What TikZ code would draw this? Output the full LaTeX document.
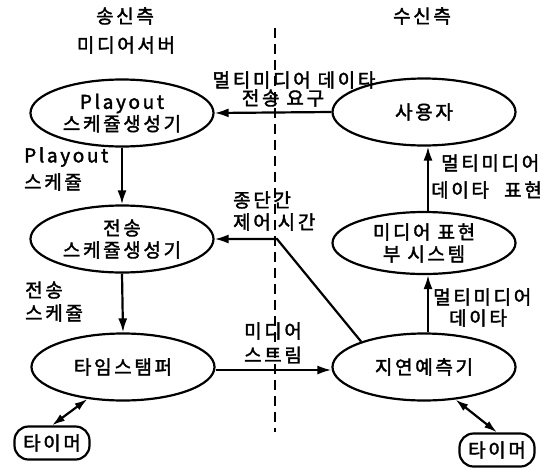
\documentclass[tikz,border=0pt]{standalone}
\usepackage{fontspec}
\setmainfont{Noto Sans CJK KR}[LetterSpace=14,FakeBold=2]
\usetikzlibrary{arrows.meta,shapes.geometric,calc}
\begin{document}
\begin{tikzpicture}[x=1pt,y=-1pt, font=\fontsize{19}{22}\selectfont,
 ell/.style={ellipse, draw, line width=2.2pt, minimum width=183pt, minimum height=67pt, inner sep=0pt, align=center},
 timer/.style={draw, rounded corners=14pt, line width=2.2pt, minimum width=75pt, minimum height=33pt, inner sep=2pt},
 arr/.style={line width=2.2pt, -{Latex[length=14pt,width=9pt]}},
 darr/.style={line width=2.2pt, {Latex[length=13pt,width=8pt]}-{Latex[length=13pt,width=8pt]}},
 lbl/.style={inner sep=0pt, align=left}]
\useasboundingbox (0,0) rectangle (558,475);
% nodes
\node[ell] (play) at (122,113) {Playout\\스케쥴생성기};
\node[ell] (user) at (424,112) {사용자};
\node[ell] (trans) at (122,239) {전송\\스케쥴생성기};
\node[ell, minimum height=62pt] (pres) at (424,243) {미디어 표현\\부 시스템};
\node[ell] (stamp) at (123,367) {타임스탬퍼};
\node[ell] (delay) at (424,367) {지연예측기};
\node[timer] (t1) at (52,443) {타이머};
\node[timer] (t2) at (497,450) {타이머};
% dashed divider
\coordinate (dtop) at (275,28);
\coordinate (dbot) at (275,432);
\draw[line width=2pt, dash pattern=on 10pt off 6pt] (dtop) -- (dbot);
% headings
\node[lbl] (h1) at (125,16) {송신측};
\node[lbl] (h2) at (126,45) {미디어서버};
\node[lbl] (h3) at (422,16) {수신측};
% connectors
\draw[arr] (user.west) -- (play.east);
\draw[arr] (play.south) -- (trans.north);
\draw[arr] (trans.south) -- (stamp.north);
\draw[arr] ([yshift=-3pt]stamp.east) -- ([yshift=-3pt]delay.west);
\draw[arr] ([xshift=4pt]delay.north) -- ([xshift=4pt]pres.south);
\draw[arr] ([xshift=4pt]pres.north) -- ([xshift=4pt]user.south);
\coordinate (bend) at (277,239);
\draw[arr] (delay.158) -- (bend) -- (trans.east);
\draw[darr] (stamp.222) -- (t1.north);
\draw[darr] (delay.314) -- (t2.north);
% labels
\node[lbl] (a1) at (294,80) {멀티미디어 데이타};
\node[lbl] (a2) at (283,98) {전송 요구};
\node[lbl, anchor=west] (b1) at (24,157) {Playout};
\node[lbl, anchor=west] (b2) at (24,182) {스케쥴};
\node[lbl, anchor=west] (c1) at (233,200) {종단간};
\node[lbl, anchor=west] (c2) at (233,222) {제어 시간};
\node[lbl, anchor=west] (d1) at (441,163) {멀티미디어};
\node[lbl, anchor=west] (d2) at (431,190) {데이타\hspace{0.8em}표현};
\node[lbl, anchor=west] (e1) at (25,290) {전송};
\node[lbl, anchor=west] (e2) at (25,313) {스케쥴};
\node[lbl, anchor=west] (f1) at (433,297) {멀티미디어};
\node[lbl] (f2) at (478,318) {데이타};
\node[lbl] (g1) at (273,331) {미디어};
\node[lbl] (g2) at (273,355) {스트림};
\end{tikzpicture}
\end{document}
